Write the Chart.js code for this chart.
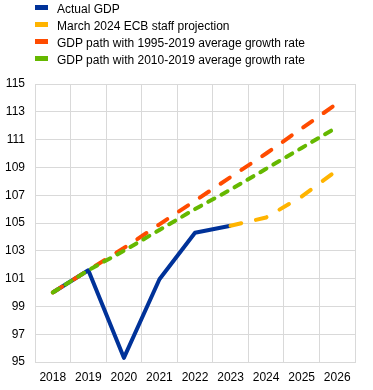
<!DOCTYPE html>
<html>
<head>
<meta charset="utf-8">
<script src="https://cdn.jsdelivr.net/npm/chart.js@4.4.1/dist/chart.umd.min.js"></script>
<style>
  html, body { margin: 0; padding: 0; background: #fff; }
  #wrap { position: relative; width: 373px; height: 390px; }
  #legend { position: absolute; left: 35px; top: 1px; font: 12px "Liberation Sans", Arial, sans-serif; color: #000; }
  #legend div { height: 17px; line-height: 17px; white-space: nowrap; }
  #legend span.box { display: inline-block; width: 13px; height: 5px; margin-right: 9px; vertical-align: 3px; }
</style>
</head>
<body>
<div id="wrap">
  <canvas id="gdpChart" width="373" height="390"></canvas>
  <div id="legend"></div>
</div>
<script>
const years = ['2018', '2019', '2020', '2021', '2022', '2023', '2024', '2025', '2026'];

const actualGdp = [100, 101.6, 95.3, 100.95, 104.3, 104.8, null, null, null];
const ecbProjection = [null, null, null, null, null, 104.8, 105.4, 106.9, 108.8];
const path1995 = [100, 101.6, 103.2, 104.9, 106.6, 108.3, 110.0, 111.8, 113.6];
const path2010 = [100, 101.6, 103.0, 104.5, 106.0, 107.4, 108.9, 110.4, 111.9];

const seriesNames = [
    'Actual GDP',
    'March 2024 ECB staff projection',
    'GDP path with 1995-2019 average growth rate',
    'GDP path with 2010-2019 average growth rate'
];
const seriesColors = ['#003299', '#ffb400', '#ff4b00', '#65b800'];

Chart.defaults.font.family = '"Liberation Sans", Arial, sans-serif';
Chart.defaults.font.size = 12;
Chart.defaults.color = '#000';

const gridColor = '#d9d9d9';

const chart = new Chart(document.getElementById('gdpChart'), {
    type: 'line',
    data: {
        labels: years,
        datasets: [
            {
                label: seriesNames[0],
                data: actualGdp,
                borderColor: seriesColors[0],
                borderWidth: 4,
                order: 4
            },
            {
                label: seriesNames[1],
                data: ecbProjection,
                borderColor: seriesColors[1],
                borderWidth: 4,
                borderDash: [11, 15],
                borderCapStyle: 'round',
                order: 3
            },
            {
                label: seriesNames[2],
                data: path1995,
                borderColor: seriesColors[2],
                borderWidth: 4,
                borderDash: [11, 14],
                borderCapStyle: 'round',
                order: 2
            },
            {
                label: seriesNames[3],
                data: path2010,
                borderColor: seriesColors[3],
                borderWidth: 4,
                borderDash: [7, 8],
                borderCapStyle: 'round',
                order: 1
            }
        ]
    },
    options: {
        responsive: false,
        animation: false,
        elements: {
            point: { radius: 0, hoverRadius: 0 },
            line: { tension: 0, borderJoinStyle: 'round' }
        },
        layout: {
            padding: { top: 84, left: 5, right: 18, bottom: 7 }
        },
        plugins: {
            legend: { display: false },
            tooltip: { enabled: false }
        },
        scales: {
            x: {
                offset: true,
                grid: { offset: true, color: gridColor, drawTicks: false },
                border: { color: gridColor },
                ticks: { padding: 8, maxRotation: 0 },
                afterFit: axis => { axis.height = 21; }
            },
            y: {
                min: 95,
                max: 115,
                grid: { color: gridColor, drawTicks: false },
                border: { color: gridColor },
                ticks: { stepSize: 2, padding: 10 },
                afterFit: axis => { axis.width = 30; }
            }
        }
    }
});

// legend as a plain list, one series per row
const legendBox = document.getElementById('legend');
chart.data.datasets.forEach(ds => {
    const row = document.createElement('div');
    const box = document.createElement('span');
    box.className = 'box';
    box.style.background = ds.borderColor;
    row.appendChild(box);
    row.appendChild(document.createTextNode(ds.label));
    legendBox.appendChild(row);
});
</script>
</body>
</html>
